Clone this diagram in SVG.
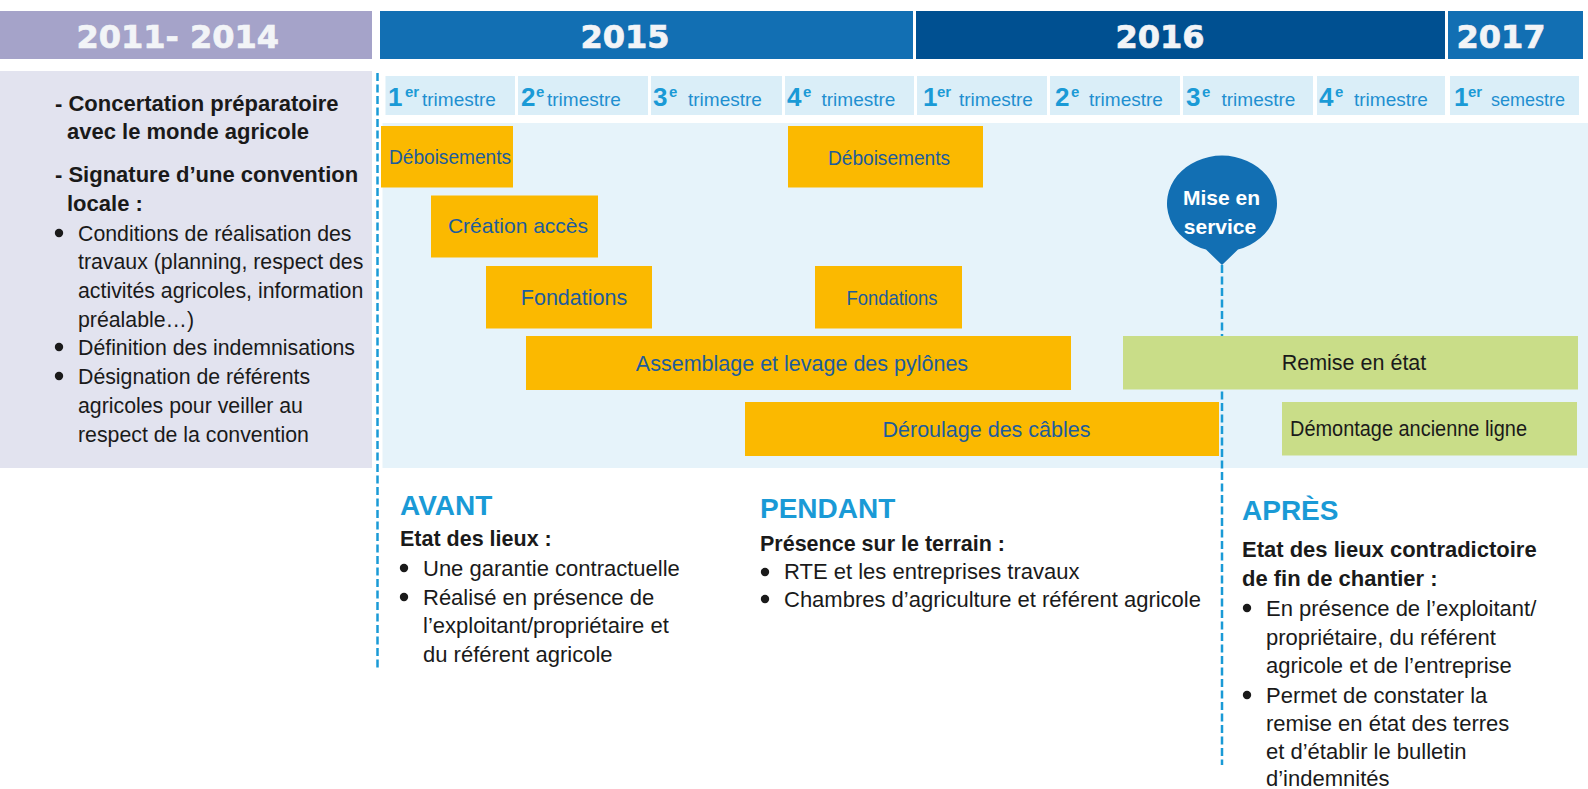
<svg xmlns="http://www.w3.org/2000/svg" width="1588" height="789" viewBox="0 0 1588 789">
<style>
.yr{font-family:"DejaVu Sans",sans-serif;font-weight:bold;font-size:32px;fill:#f2f4f7;stroke:#f2f4f7;stroke-width:0.7}
.qn{font-family:"Liberation Sans",Arial,sans-serif;font-weight:bold;font-size:26px;fill:#1a9ad6}
.qs{font-family:"Liberation Sans",Arial,sans-serif;font-weight:bold;font-size:15px;fill:#1a9ad6}
.qt{font-family:"Liberation Sans",Arial,sans-serif;font-size:19px;fill:#1f8fd0}
.cell{fill:#daeef8}
.bar{fill:#fbb900}
.grn{fill:#c9dd88}
.bl{font-family:"Liberation Sans",Arial,sans-serif;fill:#1d5c9c;text-anchor:middle}
.bk{font-family:"Liberation Sans",Arial,sans-serif;fill:#1a1a1a;text-anchor:middle}
.h{font-family:"Liberation Sans",Arial,sans-serif;font-weight:bold;font-size:28px;fill:#1a9ad6}
.sb{font-family:"Liberation Sans",Arial,sans-serif;font-weight:bold;font-size:21.5px;fill:#1a1a1a}
.tx{font-family:"Liberation Sans",Arial,sans-serif;font-size:22px;fill:#1a1a1a}
.lb{font-family:"Liberation Sans",Arial,sans-serif;font-weight:bold;font-size:22px;fill:#1a1a1a}
.lt{font-family:"Liberation Sans",Arial,sans-serif;font-size:21.3px;fill:#1a1a1a}
.dot{fill:#1a1a1a}
.dash{stroke:#1a9ad6;stroke-width:2.5;stroke-dasharray:8 3.5;fill:none}
</style>

<g id="headers">
  <rect x="0" y="11" width="372" height="48" fill="#a5a3c9"/>
  <text class="yr" x="76.5" y="48">2011- 2014</text>
  <rect x="380" y="11" width="533" height="48" fill="#126fb3"/>
  <text class="yr" x="580.5" y="48">2015</text>
  <rect x="916" y="11" width="529" height="48" fill="#005091"/>
  <text class="yr" x="1115.5" y="48">2016</text>
  <rect x="1448" y="11" width="135" height="48" fill="#126fb3"/>
  <text class="yr" x="1456.5" y="48">2017</text>
</g>

<g id="left-panel">
  <rect x="0" y="71" width="372" height="397" fill="#e2e3ef"/>
  <text class="lb" x="55" y="111">- Concertation préparatoire</text>
  <text class="lb" x="67" y="139">avec le monde agricole</text>
  <text class="lb" x="55" y="182">- Signature d’une convention</text>
  <text class="lb" x="67" y="211">locale :</text>
  <circle class="dot" cx="59" cy="233" r="4.2"/>
  <text class="lt" x="78" y="241">Conditions de réalisation des</text>
  <text class="lt" x="78" y="269">travaux (planning, respect des</text>
  <text class="lt" x="78" y="298">activités agricoles, information</text>
  <text class="lt" x="78" y="327">préalable…)</text>
  <circle class="dot" cx="59" cy="347" r="4.2"/>
  <text class="lt" x="78" y="355">Définition des indemnisations</text>
  <circle class="dot" cx="59" cy="376" r="4.2"/>
  <text class="lt" x="78" y="384">Désignation de référents</text>
  <text class="lt" x="78" y="413">agricoles pour veiller au</text>
  <text class="lt" x="78" y="442">respect de la convention</text>
</g>

<g id="quarters">
  <rect class="cell" x="385.5" y="76" width="129.5" height="39"/>
  <rect class="cell" x="518" y="76" width="130" height="39"/>
  <rect class="cell" x="651" y="76" width="131" height="39"/>
  <rect class="cell" x="785" y="76" width="129" height="39"/>
  <rect class="cell" x="917" y="76" width="130" height="39"/>
  <rect class="cell" x="1050" y="76" width="130" height="39"/>
  <rect class="cell" x="1183" y="76" width="130" height="39"/>
  <rect class="cell" x="1317" y="76" width="128" height="39"/>
  <rect class="cell" x="1450" y="76" width="129" height="39"/>

  <text class="qn" x="388" y="106">1</text><text class="qs" x="405" y="97">er</text><text class="qt" x="422" y="106">trimestre</text>
  <text class="qn" x="521" y="106">2</text><text class="qs" x="536" y="97">e</text><text class="qt" x="547" y="106">trimestre</text>
  <text class="qn" x="653" y="106">3</text><text class="qs" x="669" y="97">e</text><text class="qt" x="688" y="106">trimestre</text>
  <text class="qn" x="787" y="106">4</text><text class="qs" x="803" y="97">e</text><text class="qt" x="821.5" y="106">trimestre</text>
  <text class="qn" x="923" y="106">1</text><text class="qs" x="937" y="97">er</text><text class="qt" x="959" y="106">trimestre</text>
  <text class="qn" x="1055" y="106">2</text><text class="qs" x="1071" y="97">e</text><text class="qt" x="1089" y="106">trimestre</text>
  <text class="qn" x="1186" y="106">3</text><text class="qs" x="1202" y="97">e</text><text class="qt" x="1221.5" y="106">trimestre</text>
  <text class="qn" x="1319" y="106">4</text><text class="qs" x="1335" y="97">e</text><text class="qt" x="1354" y="106">trimestre</text>
  <text class="qn" x="1454" y="106">1</text><text class="qs" x="1468" y="97">er</text><text class="qt" x="1491" y="106" textLength="74" lengthAdjust="spacingAndGlyphs">semestre</text>
</g>

<rect id="chart-area" x="382.5" y="123" width="1205.5" height="345" fill="#e6f3fa"/>

<g id="connectors">
  <line class="dash" x1="377.5" y1="73" x2="377.5" y2="670"/>
  <line class="dash" x1="1222" y1="265" x2="1222" y2="765"/>
</g>

<g id="node-deboisements-1">
  <rect class="bar" x="381" y="126" width="132" height="61.5"/>
  <text class="bl" x="450" y="164" font-size="21" textLength="122" lengthAdjust="spacingAndGlyphs">Déboisements</text>
</g>
<g id="node-creation-acces">
  <rect class="bar" x="431" y="195.5" width="167" height="62"/>
  <text class="bl" x="518" y="233" font-size="21">Création accès</text>
</g>
<g id="node-fondations-1">
  <rect class="bar" x="486" y="266" width="166" height="62.5"/>
  <text class="bl" x="574" y="305" font-size="21.5">Fondations</text>
</g>
<g id="node-assemblage">
  <rect class="bar" x="526" y="336" width="545" height="54"/>
  <text class="bl" x="802" y="371" font-size="21.5">Assemblage et levage des pylônes</text>
</g>
<g id="node-deroulage">
  <rect class="bar" x="745" y="402" width="474" height="54"/>
  <text class="bl" x="986.5" y="437" font-size="21.5">Déroulage des câbles</text>
</g>
<g id="node-deboisements-2">
  <rect class="bar" x="788" y="126" width="195" height="61.5"/>
  <text class="bl" x="889" y="165" font-size="21" textLength="122" lengthAdjust="spacingAndGlyphs">Déboisements</text>
</g>
<g id="node-fondations-2">
  <rect class="bar" x="815" y="266" width="147" height="62.5"/>
  <text class="bl" x="892" y="305" font-size="21" textLength="91" lengthAdjust="spacingAndGlyphs">Fondations</text>
</g>
<g id="node-remise">
  <rect class="grn" x="1123" y="336" width="455" height="53.5"/>
  <text class="bk" x="1354" y="370" font-size="21.5">Remise en état</text>
</g>
<g id="node-demontage">
  <rect class="grn" x="1282" y="402" width="295" height="53.5"/>
  <text class="bk" x="1408.5" y="436" font-size="22" textLength="237" lengthAdjust="spacingAndGlyphs">Démontage ancienne ligne</text>
</g>

<g id="node-mise-en-service">
  <path d="M1206 249.5 A55 48 0 1 1 1238 249.5 L1222 265 Z" fill="#126fb3"/>
  <text x="1221.5" y="205" font-family="Liberation Sans, Arial, sans-serif" font-weight="bold" font-size="21" fill="#ffffff" text-anchor="middle">Mise en</text>
  <text x="1220" y="234" font-family="Liberation Sans, Arial, sans-serif" font-weight="bold" font-size="21" fill="#ffffff" text-anchor="middle">service</text>
</g>

<g id="avant">
  <text class="h" x="400" y="515">AVANT</text>
  <text class="sb" x="400" y="546">Etat des lieux :</text>
  <circle class="dot" cx="404" cy="568" r="4.2"/>
  <text class="tx" x="423" y="576">Une garantie contractuelle</text>
  <circle class="dot" cx="404" cy="597" r="4.2"/>
  <text class="tx" x="423" y="605">Réalisé en présence de</text>
  <text class="tx" x="423" y="633">l’exploitant/propriétaire et</text>
  <text class="tx" x="423" y="662">du référent agricole</text>
</g>

<g id="pendant">
  <text class="h" x="760" y="518">PENDANT</text>
  <text class="sb" x="760" y="551">Présence sur le terrain :</text>
  <circle class="dot" cx="765" cy="572" r="4.2"/>
  <text class="tx" x="784" y="579">RTE et les entreprises travaux</text>
  <circle class="dot" cx="765" cy="599" r="4.2"/>
  <text class="tx" x="784" y="607">Chambres d’agriculture et référent agricole</text>
</g>

<g id="apres">
  <text class="h" x="1242" y="520">APRÈS</text>
  <text class="lb" x="1242" y="557">Etat des lieux contradictoire</text>
  <text class="lb" x="1242" y="586">de fin de chantier :</text>
  <circle class="dot" cx="1247" cy="608" r="4.2"/>
  <text class="tx" x="1266" y="616">En présence de l’exploitant/</text>
  <text class="tx" x="1266" y="645">propriétaire, du référent</text>
  <text class="tx" x="1266" y="673">agricole et de l’entreprise</text>
  <circle class="dot" cx="1247" cy="695" r="4.2"/>
  <text class="tx" x="1266" y="703">Permet de constater la</text>
  <text class="tx" x="1266" y="731">remise en état des terres</text>
  <text class="tx" x="1266" y="759">et d’établir le bulletin</text>
  <text class="tx" x="1266" y="786">d’indemnités</text>
</g>
</svg>
